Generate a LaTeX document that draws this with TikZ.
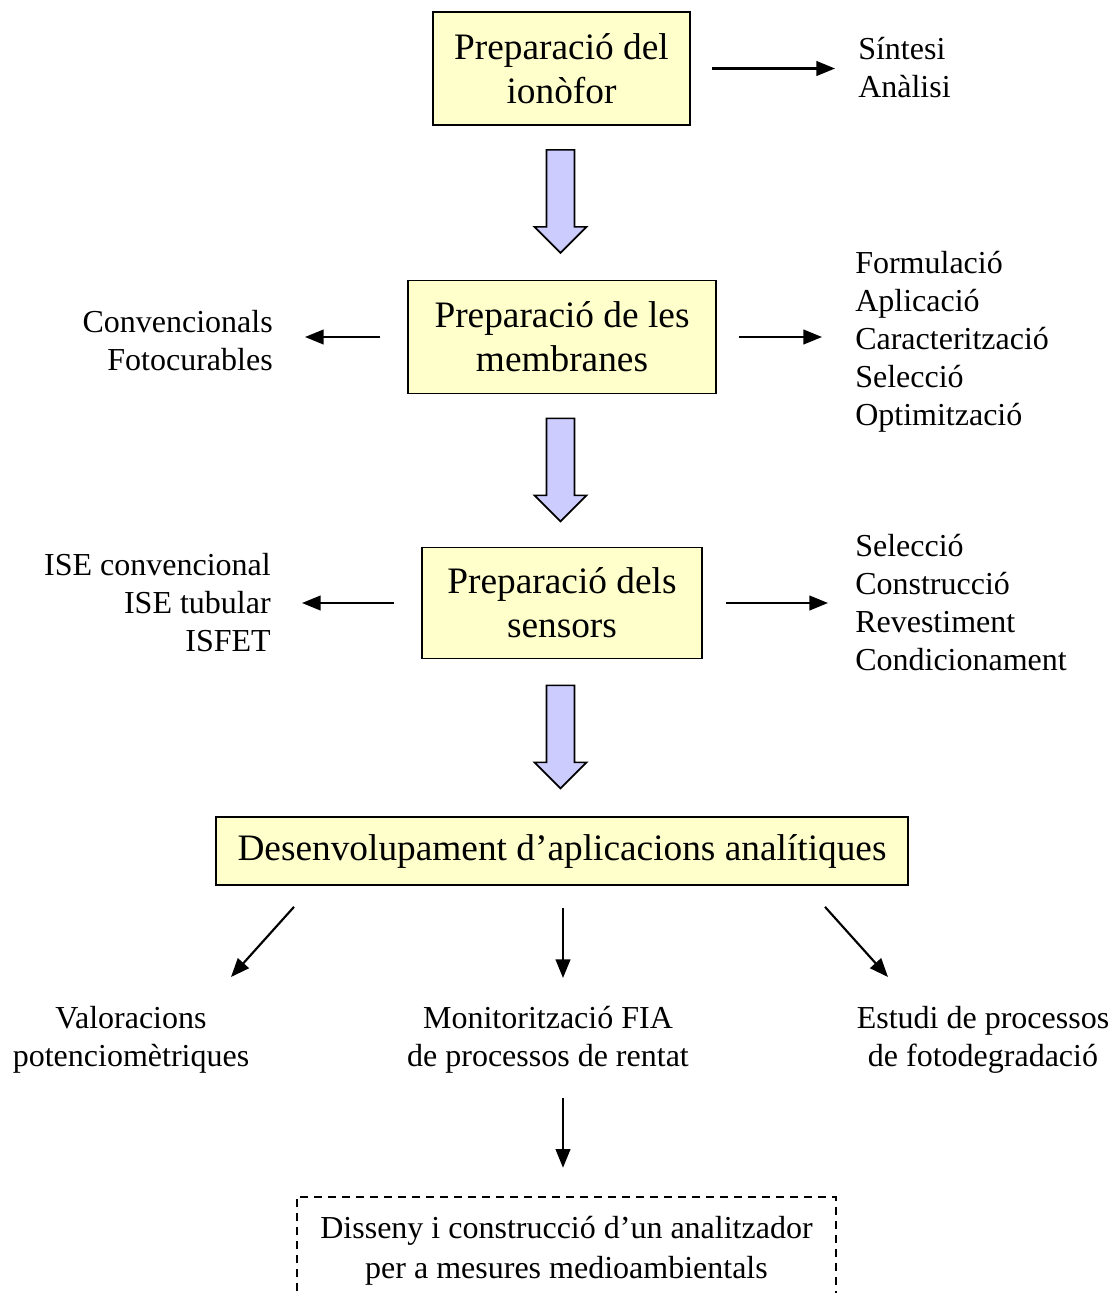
\documentclass[tikz,border=0pt]{standalone}
\usepackage{fontspec}
\setmainfont{Liberation Serif}
\usetikzlibrary{arrows.meta}
\definecolor{boxfill}{RGB}{255,255,204}
\definecolor{arrowfill}{RGB}{204,204,255}
\tikzset{
  mainbox/.style={draw, line width=1.3pt, fill=boxfill, align=center, inner sep=0pt,
    font=\fontsize{28}{33}\selectfont},
  sidetext/.style={inner sep=0pt, font=\fontsize{24}{28.5}\selectfont},
  arr/.style={line width=1.6pt, -{Triangle[length=14pt,width=11pt]}},
  barrow/.style={draw, line width=1.3pt, fill=arrowfill, line join=miter},
  blockarrow/.pic={\path[barrow] (-14,0) -- (14,0) -- (14,77) -- (26,77) -- (0,103) -- (-26,77) -- (-14,77) -- cycle;}
}
\begin{document}
\begin{tikzpicture}[x=0.75pt, y=-0.75pt]
\useasboundingbox (0,0) rectangle (1114,1293);

% main boxes
\node[mainbox, minimum width=192.75pt, minimum height=84.75pt] (b1) at (561.5,68.5) {Preparació del\\ionòfor};
\node[mainbox, minimum width=231pt, minimum height=84.75pt] (b2) at (562,337) {Preparació de les\\membranes};
\node[mainbox, minimum width=210pt, minimum height=83.25pt] (b3) at (562,603) {Preparació dels\\sensors};
\node[mainbox, minimum width=519pt, minimum height=51pt] (b4) at (562,851) {Desenvolupament d’aplicacions analítiques};

% side texts
\node[sidetext, anchor=west, align=left] (sint) at (858,68) {Síntesi\\Anàlisi};
\node[sidetext, anchor=east, align=right] (conv) at (273,341) {Convencionals\\Fotocurables};
\node[sidetext, anchor=west, align=left] (form) at (855,342) {Formulació\\Aplicació\\Caracterització\\Selecció\\Optimització};
\node[sidetext, anchor=east, align=right] (ise) at (271,603) {ISE convencional\\ISE tubular\\ISFET};
\node[sidetext, anchor=west, align=left] (sel) at (855,603) {Selecció\\Construcció\\Revestiment\\Condicionament};
\node[sidetext, align=center] (val) at (131,1040) {Valoracions\\potenciomètriques};
\node[sidetext, align=center] (mon) at (548,1040) {Monitorització FIA\\de processos de rentat};
\node[sidetext, align=center] (est) at (983,1040) {Estudi de processos\\de fotodegradació};

% dashed final box (bottom edge outside the picture)
\node[sidetext, align=center, font=\fontsize{24}{30}\selectfont, minimum width=404.25pt, minimum height=81pt] (dis) at (566.5,1251) {Disseny i construcció d’un analitzador\\per a mesures medioambientals};
\draw[line width=1.2pt, dash pattern=on 6pt off 4.5pt] (dis.south west) -- (dis.north west) -- (dis.north east) -- (dis.south east);

% block arrows
\pic at ([shift={(-1,24)}]b1.south) {blockarrow};
\pic at ([shift={(-1.5,24)}]b2.south) {blockarrow};
\pic at ([shift={(-1.5,26)}]b3.south) {blockarrow};

% horizontal connectors
\draw[arr, shorten <=15.75pt, shorten >=17.25pt] (b1.east) -- (b1.east -| sint.west);
\draw[arr, shorten <=20.25pt, shorten >=24pt] (b2.west) -- (b2.west -| conv.east);
\draw[arr, shorten <=16.5pt, shorten >=24.75pt] (b2.east) -- (b2.east -| form.west);
\draw[arr, shorten <=20.25pt, shorten >=23.25pt] (b3.west) -- (b3.west -| ise.east);
\draw[arr, shorten <=17.25pt, shorten >=20.25pt] (b3.east) -- (b3.east -| sel.west);

% application connectors
\draw[arr] ([shift={(-268,21)}]b4.south) -- ([shift={(100,-63)}]val.center);
\draw[arr] ([shift={(1,22)}]b4.south) -- ([shift={(15,-62)}]mon.center);
\draw[arr] ([shift={(263,21)}]b4.south) -- ([shift={(-95,-63)}]est.center);
\draw[arr] ([shift={(15,58)}]mon.center) -- ([shift={(-3.5,-29)}]dis.north);
\end{tikzpicture}
\end{document}
